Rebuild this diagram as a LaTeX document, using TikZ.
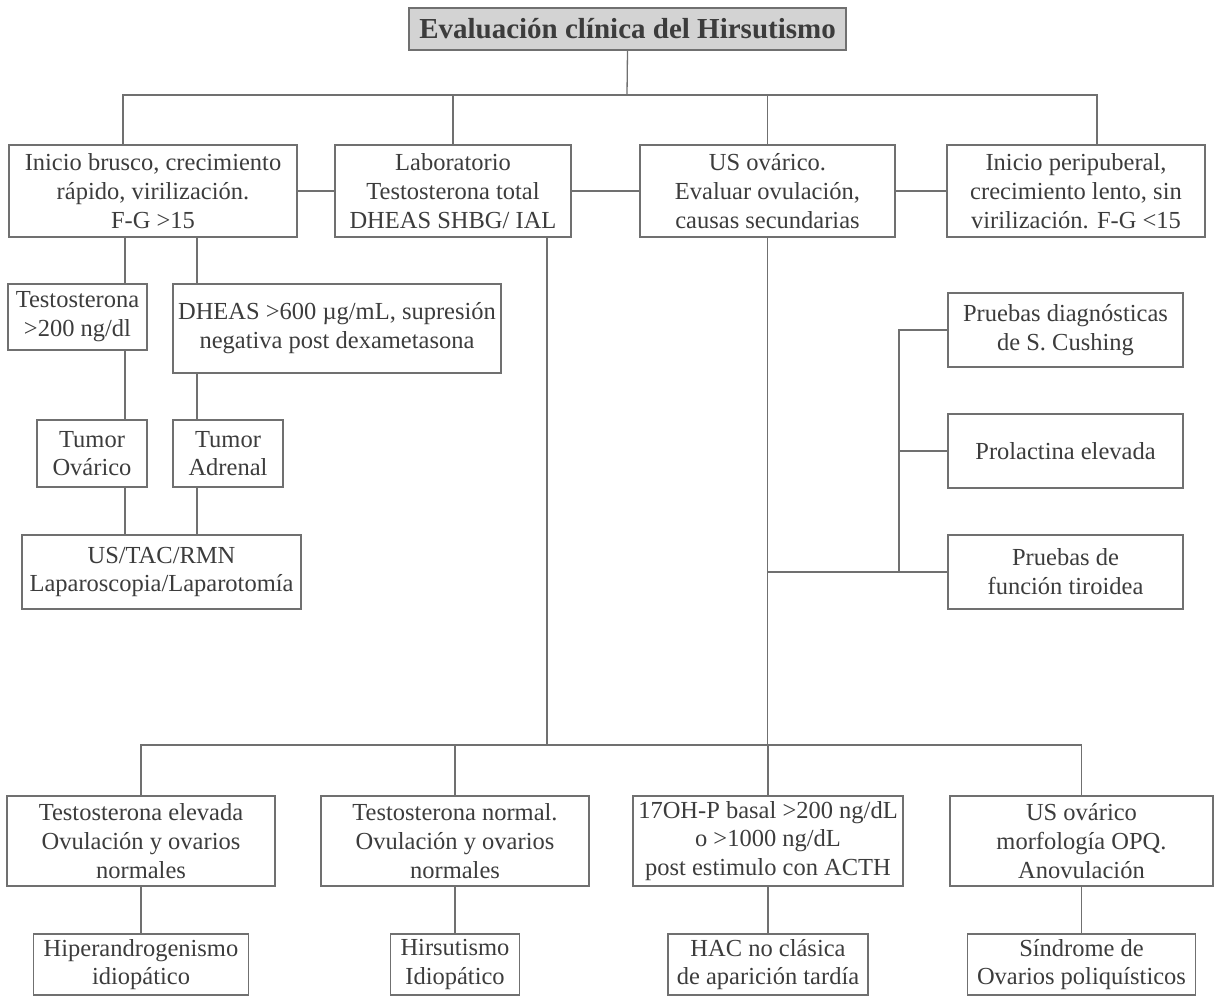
\documentclass[tikz,border=0pt]{standalone}
\usepackage{fontspec}
\setmainfont{Liberation Serif}
\definecolor{linegray}{HTML}{707070}
\definecolor{txtgray}{HTML}{3C3C3C}
\definecolor{titlefill}{HTML}{D3D3D3}

\begin{document}
\begin{tikzpicture}[x=1pt,y=-1pt,
	box/.style={draw=linegray, line width=1.3pt, text=txtgray, align=center, inner sep=0pt, font=\fontsize{24.5}{28.8}\selectfont},
	link/.style={draw=linegray, line width=1.3pt}]
	\path[use as bounding box] (0,0) rectangle (1215,998);

	% title
	\node[box, fill=titlefill, minimum width=437pt, minimum height=42pt, font=\fontsize{29}{30}\selectfont\bfseries] (title) at (627.5,29) {Evaluación clínica del Hirsutismo};

	% first row
	\node[box, minimum width=288pt, minimum height=92pt] (inicio) at (153,191) {Inicio brusco, crecimiento\\rápido, virilización.\\F-G >15};
	\node[box, minimum width=236pt, minimum height=92pt] (lab) at (453,191) {Laboratorio\\Testosterona total\\DHEAS SHBG/ IAL};
	\node[box, minimum width=255pt, minimum height=92pt] (usov) at (767.5,191) {US ovárico.\\Evaluar ovulación,\\causas secundarias};
	\node[box, minimum width=258pt, minimum height=92pt] (peri) at (1076,191) {Inicio peripuberal,\\crecimiento lento, sin\\virilización. F-G <15};

	% left branch
	\node[box, minimum width=139pt, minimum height=66pt] (testo) at (77.5,317) {Testosterona\\>200 ng/dl};
	\node[box, minimum width=328pt, minimum height=89pt] (dheas) at (337,328.5) {DHEAS >600 µg/mL, supresión\\negativa post dexametasona};
	\node[box, minimum width=110pt, minimum height=67pt] (tovar) at (92,453.5) {Tumor\\Ovárico};
	\node[box, minimum width=110pt, minimum height=67pt] (tadren) at (228,453.5) {Tumor\\Adrenal};
	\node[box, minimum width=279pt, minimum height=74pt] (imagen) at (161.5,572) {US/TAC/RMN\\Laparoscopia/Laparotomía};

	% right branch
	\node[box, minimum width=235pt, minimum height=74pt] (cushing) at (1065.5,330) {Pruebas diagnósticas\\de S. Cushing};
	\node[box, minimum width=235pt, minimum height=74pt] (prl) at (1065.5,451) {Prolactina elevada};
	\node[box, minimum width=235pt, minimum height=74pt] (tiro) at (1065.5,572) {Pruebas de\\función tiroidea};

	% bottom rows
	\node[box, minimum width=268pt, minimum height=90pt] (telev) at (141,841) {Testosterona elevada\\Ovulación y ovarios\\normales};
	\node[box, minimum width=268pt, minimum height=90pt] (tnorm) at (455,841) {Testosterona normal.\\Ovulación y ovarios\\normales};
	\node[box, minimum width=270pt, minimum height=90pt] (ohp) at (768,841) {17OH-P basal >200 ng/dL\\o >1000 ng/dL\\post estimulo con ACTH};
	\node[box, minimum width=263pt, minimum height=90pt] (opq) at (1081.5,841) {US ovárico\\morfología OPQ.\\Anovulación};
	\node[box, minimum width=215pt, minimum height=61pt] (hiper) at (141,964.5) {Hiperandrogenismo\\idiopático};
	\node[box, minimum width=129pt, minimum height=61pt] (hirsut) at (455,964.5) {Hirsutismo\\Idiopático};
	\node[box, minimum width=200pt, minimum height=61pt] (hac) at (768,964.5) {HAC no clásica\\de aparición tardía};
	\node[box, minimum width=228pt, minimum height=61pt] (sop) at (1081.5,964.5) {Síndrome de\\Ovarios poliquísticos};

	% junction points
	\coordinate (hub) at (627,95);
	\coordinate (jl) at (123,95);
	\coordinate (jr) at (1097,95);
	\coordinate (lx) at (125,0);
	\coordinate (rx) at (197,0);
	\coordinate (mx) at (547,0);
	\coordinate (bx) at (899,0);
	\coordinate (bus) at (0,745);

	% top tree
	\draw[link] (title.south) -- (hub);
	\draw[link] (inicio.north -| jl) -- (jl) -- (jr) -- (peri.north -| jr);
	\draw[link] (lab.north) -- (lab.north |- hub);
	\draw[link] (usov.north) -- (usov.north |- hub);
	\draw[link] (inicio) -- (lab);
	\draw[link] (lab) -- (usov);
	\draw[link] (usov) -- (peri);

	% left branch
	\draw[link] (inicio.south -| lx) -- (testo.north -| lx);
	\draw[link] (testo.south -| lx) -- (tovar.north -| lx);
	\draw[link] (tovar.south -| lx) -- (imagen.north -| lx);
	\draw[link] (inicio.south -| rx) -- (dheas.north -| rx);
	\draw[link] (dheas.south -| rx) -- (tadren.north -| rx);
	\draw[link] (tadren.south -| rx) -- (imagen.north -| rx);

	% right branch
	\draw[link] (usov.south) -- (usov.south |- bus);
	\draw[link] (usov.south |- tiro) -- (tiro.west);
	\draw[link] (cushing.west) -- (cushing.west -| bx) -- (tiro.west -| bx);
	\draw[link] (prl.west) -- (prl.west -| bx);

	% bottom tree
	\draw[link] (lab.south -| mx) -- (bus -| mx);
	\draw[link] (telev.north) -- (telev.north |- bus) -- (opq.north |- bus) -- (opq.north);
	\draw[link] (tnorm.north) -- (tnorm.north |- bus);
	\draw[link] (ohp.north) -- (ohp.north |- bus);
	\draw[link] (telev) -- (hiper);
	\draw[link] (tnorm) -- (hirsut);
	\draw[link] (ohp) -- (hac);
	\draw[link] (opq) -- (sop);
\end{tikzpicture}
\end{document}
